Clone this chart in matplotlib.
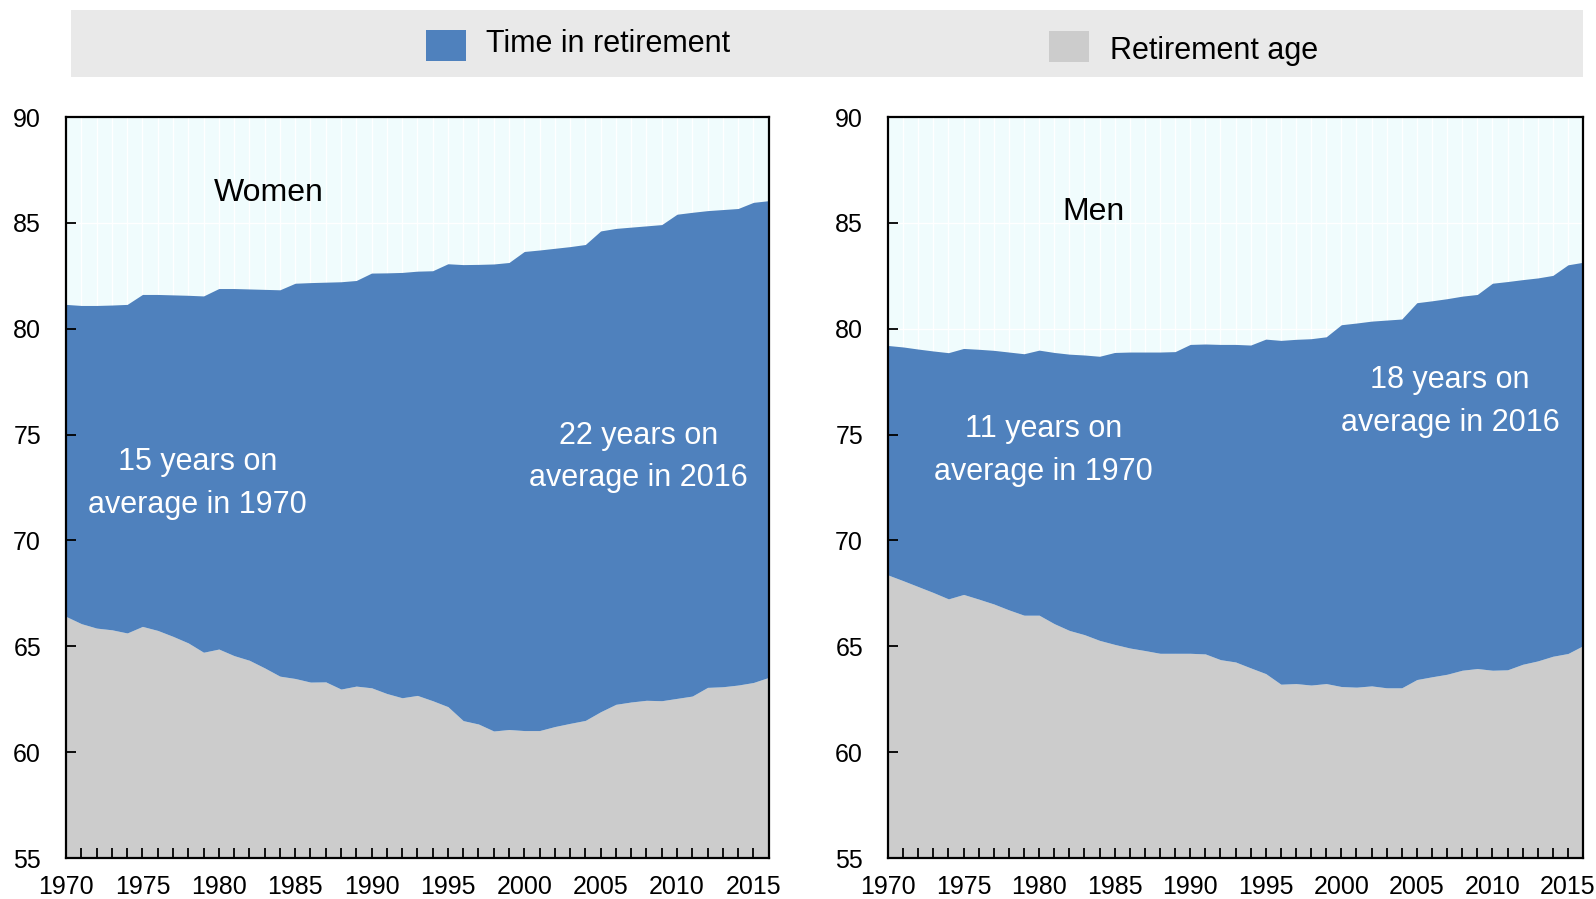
"""Time in retirement vs retirement age, women and men, 1970-2016."""

import matplotlib.pyplot as plt
import numpy as np
from matplotlib.patches import Rectangle
from matplotlib.ticker import MultipleLocator

plt.rcParams["font.family"] = ["Liberation Sans", "DejaVu Sans"]

years = np.arange(1970, 2017)

women_ret_age = [
    66.41, 66.07, 65.86, 65.78, 65.63, 65.94, 65.75, 65.47, 65.16, 64.72,
    64.87, 64.56, 64.34, 63.98, 63.59, 63.48, 63.31, 63.32, 62.98, 63.12,
    63.04, 62.77, 62.57, 62.68, 62.43, 62.15, 61.49, 61.33, 61.00, 61.07,
    61.02, 61.02, 61.21, 61.36, 61.50, 61.91, 62.26, 62.37, 62.45, 62.43,
    62.54, 62.65, 63.06, 63.09, 63.17, 63.29, 63.53,
]
women_life_exp = [
    81.15, 81.10, 81.10, 81.12, 81.15, 81.62, 81.62, 81.60, 81.58, 81.55,
    81.90, 81.90, 81.88, 81.86, 81.84, 82.15, 82.18, 82.20, 82.22, 82.28,
    82.63, 82.64, 82.66, 82.72, 82.74, 83.07, 83.03, 83.04, 83.06, 83.13,
    83.65, 83.72, 83.80, 83.88, 83.98, 84.62, 84.74, 84.80, 84.86, 84.92,
    85.41, 85.50, 85.58, 85.63, 85.68, 85.97, 86.05,
]
men_ret_age = [
    68.37, 68.10, 67.82, 67.54, 67.24, 67.45, 67.23, 67.00, 66.72, 66.47,
    66.47, 66.07, 65.75, 65.55, 65.28, 65.09, 64.92, 64.80, 64.67, 64.67,
    64.67, 64.64, 64.37, 64.26, 63.98, 63.71, 63.21, 63.24, 63.17, 63.24,
    63.10, 63.07, 63.13, 63.04, 63.04, 63.43, 63.56, 63.68, 63.87, 63.95,
    63.87, 63.89, 64.15, 64.31, 64.53, 64.66, 65.03,
]
men_life_exp = [
    79.21, 79.14, 79.04, 78.95, 78.87, 79.07, 79.03, 78.98, 78.90, 78.82,
    78.99, 78.88, 78.80, 78.76, 78.70, 78.88, 78.90, 78.90, 78.90, 78.92,
    79.26, 79.28, 79.26, 79.26, 79.23, 79.51, 79.45, 79.50, 79.53, 79.62,
    80.19, 80.27, 80.36, 80.41, 80.46, 81.23, 81.32, 81.42, 81.54, 81.62,
    82.15, 82.23, 82.32, 82.40, 82.52, 83.02, 83.14,
]

panels = [
    {
        "ret": women_ret_age, "le": women_life_exp, "title": "Women",
        "title_xy": (1983.3, 86.4),
        "notes": [("15 years on\naverage in 1970", (1978.6, 72.7)),
                  ("22 years on\naverage in 2016", (2007.5, 73.95))],
        "rect": [0.0414, 0.0456, 0.4402, 0.8242],
    },
    {
        "ret": men_ret_age, "le": men_life_exp, "title": "Men",
        "title_xy": (1983.6, 85.5),
        "notes": [("11 years on\naverage in 1970", (1980.3, 74.25)),
                  ("18 years on\naverage in 2016", (2007.2, 76.56))],
        "rect": [0.5564, 0.0456, 0.4355, 0.8242],
    },
]

BLUE = "#4f81bd"
GREY = "#cccccc"
BG = "#f0fcfd"

fig = plt.figure(figsize=(15.96, 8.99), dpi=100)

for p in panels:
    ax = fig.add_axes(p["rect"])
    ax.set_facecolor(BG)
    # faint white grid behind the areas (ticks stay on top)
    ax.vlines(years, 55, 90, color="white", lw=1, zorder=1)
    ax.hlines(np.arange(60, 90, 5), 1970, 2016, color="white", lw=1, zorder=1)
    ax.fill_between(years, 55, p["ret"], color=GREY, lw=0, zorder=2)
    ax.fill_between(years, p["ret"], p["le"], color=BLUE, lw=0, zorder=2)
    ax.set_xlim(1970, 2016)
    ax.set_ylim(55, 90)
    ax.xaxis.set_major_locator(MultipleLocator(5))
    ax.xaxis.set_minor_locator(MultipleLocator(1))
    ax.yaxis.set_major_locator(MultipleLocator(5))
    ax.set_axisbelow(False)
    ax.tick_params(axis="x", which="both", direction="in", length=7, width=1.3,
                   labelsize=18, pad=12, top=False)
    ax.tick_params(axis="y", direction="in", length=7, width=1.3,
                   labelsize=18, pad=18, right=False)
    for s in ax.spines.values():
        s.set_linewidth(1.6)
        s.set_zorder(5)
    ax.text(*p["title_xy"], p["title"], fontsize=23, ha="center", va="center", zorder=4)
    for txt, xy in p["notes"]:
        ax.text(*xy, txt, fontsize=22, color="white", ha="center", va="center",
                linespacing=1.55, zorder=4)

# legend band
fig.patches.append(Rectangle((0.0445, 0.9143), 0.9474, 0.0746, transform=fig.transFigure,
                             facecolor="#e9e9e9", edgecolor="none", zorder=0))
fig.patches.append(Rectangle((0.2669, 0.9322), 0.0251, 0.0345, transform=fig.transFigure,
                             facecolor=BLUE, edgecolor="none"))
fig.text(0.3045, 0.9510, "Time in retirement", fontsize=22, va="center", ha="left")
fig.patches.append(Rectangle((0.6573, 0.9311), 0.0251, 0.0345, transform=fig.transFigure,
                             facecolor=GREY, edgecolor="none"))
fig.text(0.6955, 0.9432, "Retirement age", fontsize=22, va="center", ha="left")

fig.savefig("out.png", dpi=100)
